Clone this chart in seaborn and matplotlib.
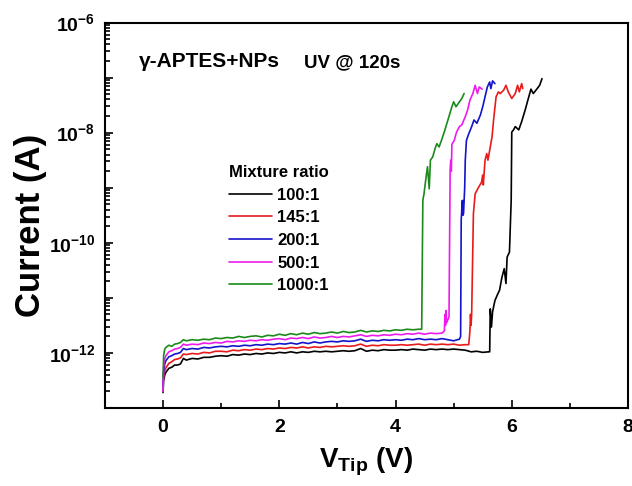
import numpy as np
import pandas as pd
import matplotlib
matplotlib.use('Agg')
import matplotlib.pyplot as plt
from matplotlib.ticker import FixedLocator, FuncFormatter, LogLocator, MultipleLocator, NullFormatter
import seaborn as sns

# mixture ratios and their line colours
ratios = ['100:1', '145:1', '200:1', '500:1', '1000:1']
colors = ['#000000', '#e81a1a', '#1414c8', '#ec1cec', '#1a8a1a']

# tip voltage (V) of the low-current baseline, shared by all curves
base_v = [0.0, 0.01, 0.03, 0.05, 0.1, 0.15, 0.2, 0.25, 0.3, 0.35,
          0.4, 0.5, 0.6, 0.7, 0.8, 0.9, 1.0, 1.1, 1.2, 1.3,
          1.4, 1.5, 1.6, 1.7, 1.8, 1.9, 2.0, 2.1, 2.2, 2.3,
          2.4, 2.5, 2.6, 2.7, 2.8, 2.9, 3.0, 3.1, 3.2, 3.3,
          3.4, 3.5, 3.6, 3.7, 3.8, 3.9, 4.0, 4.1, 4.2, 4.3,
          4.4, 4.5, 4.6, 4.7, 4.8, 4.9, 5.0, 5.1, 5.2, 5.3,
          5.4, 5.5, 5.6]

# log10 of current (A) along base_v
base_100 = [-12.72, -12.50, -12.40, -12.35, -12.28, -12.26, -12.22, -12.22, -12.20, -12.10,
            -12.13, -12.10, -12.11, -12.08, -12.08, -12.06, -12.05, -12.06, -12.03, -12.04,
            -12.02, -12.03, -12.01, -12.02, -12.00, -12.01, -11.99, -12.00, -11.98, -12.00,
            -11.98, -11.99, -11.97, -11.98, -11.97, -11.98, -11.97, -11.96, -11.97, -11.96,
            -11.92, -11.97, -11.95, -11.96, -11.94, -11.95, -11.95, -11.94, -11.95, -11.93,
            -11.94, -11.95, -11.93, -11.94, -11.93, -11.94, -11.93, -11.94, -11.95, -11.98,
            -11.97, -11.99, -11.98]
base_145 = [-12.55, -12.45, -12.32, -12.27, -12.19, -12.16, -12.12, -12.11, -12.09, -12.02,
            -12.03, -12.01, -12.02, -11.99, -12.00, -11.97, -11.97, -11.98, -11.95, -11.96,
            -11.94, -11.95, -11.93, -11.94, -11.92, -11.93, -11.91, -11.92, -11.90, -11.91,
            -11.89, -11.91, -11.89, -11.90, -11.88, -11.89, -11.88, -11.87, -11.88, -11.87,
            -11.84, -11.88, -11.86, -11.87, -11.85, -11.86, -11.86, -11.85, -11.86, -11.85,
            -11.84, -11.86, -11.84, -11.85, -11.84, -11.85, -11.84, -11.86, -11.85]
base_200 = [-12.60, -12.35, -12.20, -12.14, -12.07, -12.05, -12.02, -12.01, -11.99, -11.92,
            -11.94, -11.92, -11.93, -11.90, -11.91, -11.89, -11.88, -11.89, -11.87, -11.88,
            -11.86, -11.87, -11.85, -11.86, -11.84, -11.85, -11.83, -11.84, -11.82, -11.84,
            -11.81, -11.83, -11.80, -11.82, -11.80, -11.79, -11.80, -11.78, -11.79, -11.78,
            -11.75, -11.79, -11.77, -11.78, -11.76, -11.77, -11.76, -11.77, -11.75, -11.76,
            -11.74, -11.76, -11.75, -11.76, -11.74, -11.76, -11.78, -11.75]
base_500 = [-12.70, -12.25, -12.10, -12.05, -11.98, -11.96, -11.93, -11.92, -11.90, -11.84,
            -11.86, -11.84, -11.85, -11.82, -11.83, -11.81, -11.82, -11.79, -11.80, -11.78,
            -11.79, -11.77, -11.78, -11.76, -11.77, -11.75, -11.74, -11.76, -11.73, -11.74,
            -11.72, -11.74, -11.71, -11.73, -11.72, -11.70, -11.72, -11.70, -11.71, -11.69,
            -11.67, -11.70, -11.68, -11.69, -11.67, -11.68, -11.66, -11.67, -11.65, -11.66,
            -11.64, -11.66, -11.64, -11.65, -11.64]
base_1000 = [-12.45, -12.05, -11.93, -11.90, -11.86, -11.88, -11.84, -11.83, -11.81, -11.76,
             -11.78, -11.76, -11.77, -11.75, -11.76, -11.73, -11.74, -11.72, -11.73, -11.70,
             -11.72, -11.70, -11.69, -11.71, -11.68, -11.69, -11.66, -11.68, -11.65, -11.67,
             -11.64, -11.66, -11.63, -11.65, -11.64, -11.62, -11.64, -11.61, -11.63, -11.62,
             -11.59, -11.62, -11.60, -11.61, -11.59, -11.60, -11.58, -11.59, -11.57, -11.58,
             -11.57]

# switching part: tip voltage (V) and log10 of current (A)
rise_v_100 = [5.62, 5.63, 5.65, 5.67, 5.71, 5.75, 5.79, 5.83, 5.87, 5.90, 5.92, 5.96, 5.99,
              6.00, 6.03, 6.06, 6.12, 6.17, 6.23, 6.29, 6.33, 6.37, 6.43, 6.48, 6.52]
rise_100 = [-11.98, -11.20, -11.53, -11.25, -11.05, -10.95, -10.86, -10.63, -10.47, -10.74, -10.26,
            -10.17, -9.23, -7.99, -7.95, -7.89, -7.95, -7.80, -7.59, -7.36, -7.21, -7.29, -7.21,
            -7.14, -7.02]
rise_v_145 = [5.26, 5.28, 5.29, 5.30, 5.31, 5.34, 5.37, 5.43, 5.48, 5.50, 5.51, 5.54, 5.57,
              5.59, 5.63, 5.66, 5.69, 5.73, 5.77, 5.80, 5.86, 5.90, 5.94, 6.00, 6.06, 6.10,
              6.13, 6.17, 6.19]
rise_145 = [-11.85, -11.60, -11.30, -11.50, -11.29, -9.47, -9.11, -8.99, -8.90, -8.77, -8.95,
            -8.50, -8.38, -8.50, -8.26, -8.08, -7.74, -7.35, -7.26, -7.29, -7.23, -7.14, -7.26,
            -7.38, -7.29, -7.14, -7.26, -7.11, -7.20]
rise_v_200 = [5.12, 5.13, 5.14, 5.15, 5.16, 5.17, 5.19, 5.20, 5.22, 5.26, 5.31, 5.35, 5.40,
              5.46, 5.50, 5.54, 5.58, 5.62, 5.64, 5.67, 5.71]
rise_200 = [-11.70, -9.59, -9.40, -9.23, -9.50, -9.47, -9.00, -8.50, -8.14, -8.02, -7.89, -7.77,
            -7.83, -7.68, -7.53, -7.35, -7.17, -7.08, -7.20, -7.06, -7.11]
rise_v_500 = [4.84, 4.85, 4.86, 4.87, 4.88, 4.92, 4.94, 4.95, 4.96, 4.97, 5.01, 5.05, 5.10,
              5.14, 5.20, 5.24, 5.28, 5.33, 5.37, 5.41, 5.44, 5.49]
rise_500 = [-11.60, -11.30, -11.50, -11.23, -11.45, -11.35, -8.68, -8.50, -8.70, -8.21, -8.14,
            -7.99, -7.89, -7.86, -7.71, -7.59, -7.41, -7.29, -7.14, -7.29, -7.17, -7.21]
rise_v_1000 = [4.45, 4.47, 4.49, 4.53, 4.55, 4.58, 4.60, 4.64, 4.68, 4.71, 4.75, 4.80, 4.85,
               4.91, 4.97, 5.00, 5.04, 5.10, 5.14, 5.18]
rise_1000 = [-11.57, -9.23, -9.11, -8.77, -8.62, -9.02, -8.50, -8.44, -8.29, -8.20, -8.26,
             -8.11, -7.95, -7.74, -7.53, -7.44, -7.53, -7.44, -7.38, -7.29]

curves = {
    '100:1': (base_100, rise_v_100, rise_100),
    '145:1': (base_145, rise_v_145, rise_145),
    '200:1': (base_200, rise_v_200, rise_200),
    '500:1': (base_500, rise_v_500, rise_500),
    '1000:1': (base_1000, rise_v_1000, rise_1000),
}

rows = []
for ratio in ratios:
    base, rv, ri = curves[ratio]
    v = base_v[:len(base)] + rv
    logi = base + ri
    for x, y in zip(v, logi):
        rows.append({'V': x, 'I': 10.0 ** y, 'ratio': ratio})
df = pd.DataFrame(rows)

sns.set_style('ticks')
plt.rcParams['font.family'] = ['Liberation Sans', 'DejaVu Sans']
plt.rcParams['font.weight'] = 'bold'
plt.rcParams['text.color'] = 'black'
plt.rcParams['axes.labelcolor'] = 'black'
plt.rcParams['xtick.color'] = 'black'
plt.rcParams['ytick.color'] = 'black'
plt.rcParams['mathtext.fontset'] = 'custom'
plt.rcParams['mathtext.rm'] = 'Liberation Sans:bold'
plt.rcParams['mathtext.bf'] = 'Liberation Sans:bold'
plt.rcParams['mathtext.it'] = 'Liberation Sans:bold'
plt.rcParams['mathtext.default'] = 'bf'

fig = plt.figure(figsize=(6.32, 4.86), dpi=100)
ax = fig.add_axes([0.166, 0.1605, 0.8277, 0.7932])

sns.lineplot(data=df, x='V', y='I', hue='ratio', hue_order=ratios, palette=colors,
             sort=False, estimator=None, lw=1.2, ax=ax)
ax.set_yscale('log')
ax.set_xlim(-1, 8)
ax.set_ylim(1e-13, 1e-6)

ax.xaxis.set_major_locator(MultipleLocator(2))
ax.xaxis.set_minor_locator(MultipleLocator(1))
ax.yaxis.set_major_locator(FixedLocator([10.0 ** k for k in range(-13, -5)]))
ax.yaxis.set_major_formatter(FuncFormatter(
    lambda y, pos: r'$10^{%d}$' % round(np.log10(y)) if round(np.log10(y)) % 2 == 0 else ''))
ax.yaxis.set_minor_locator(LogLocator(base=10, subs=np.arange(2, 10), numticks=20))
ax.yaxis.set_minor_formatter(NullFormatter())

ax.tick_params(which='both', direction='in', top=False, right=False, width=1.2, colors='black')
ax.tick_params(which='major', length=6, labelsize=14)
ax.tick_params(axis='x', which='major', pad=8)
ax.tick_params(axis='y', which='major', pad=7)
ax.tick_params(which='minor', length=3.5)
for lab in ax.get_xticklabels():
    lab.set_fontweight('bold')
for s in ax.spines.values():
    s.set_linewidth(1.5)
    s.set_color('black')

ax.set_xlabel(r'$V_{Tip}$ (V)', fontsize=20, fontweight='bold', labelpad=7)
ax.set_ylabel('Current (A)', fontsize=25, fontweight='bold')
ax.yaxis.set_label_coords(-0.110, 0.475)

ax.text(0.065, 0.885, 'γ-APTES+NPs', transform=ax.transAxes, fontsize=15,
        fontweight='bold', va='baseline')
ax.text(0.380, 0.885, 'UV @ 120s', transform=ax.transAxes, fontsize=13.5,
        fontweight='bold', va='baseline')

handles, labels = ax.get_legend_handles_labels()
leg = ax.legend(handles, labels, title='Mixture ratio', loc='upper left',
                bbox_to_anchor=(0.221, 0.652), frameon=False, fontsize=12,
                title_fontproperties={'weight': 'bold', 'size': 12},
                handlelength=2.6, handletextpad=0.3, labelspacing=0.46,
                borderpad=0, alignment='left')
for line in leg.get_lines():
    line.set_linewidth(1.2)

fig.savefig('out.png', dpi=100)
